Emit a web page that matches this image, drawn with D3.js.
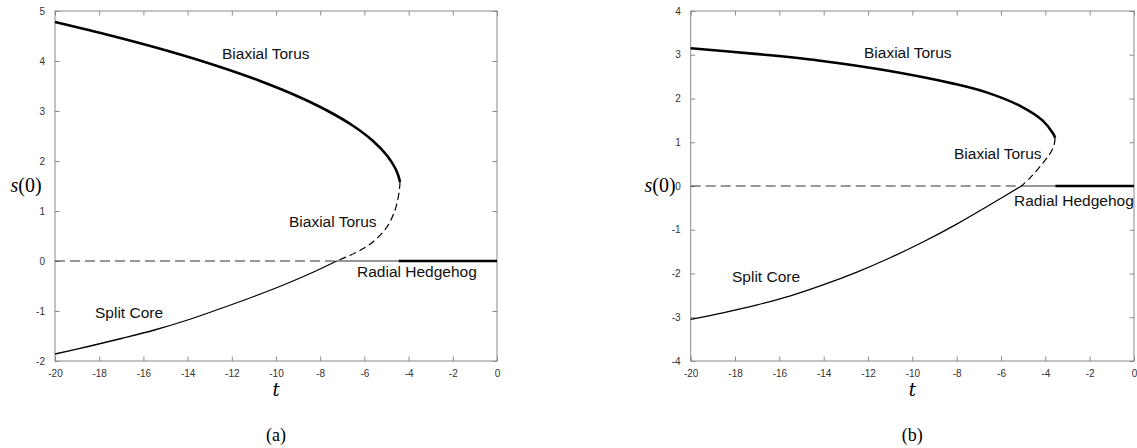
<!DOCTYPE html>
<html><head><meta charset="utf-8">
<script src="https://cdn.jsdelivr.net/npm/d3@7"></script>
<style>
body{margin:0;background:#fff;}
svg text{font-family:"Liberation Sans",Arial,Helvetica,sans-serif;}
</style></head>
<body><svg id="c" width="1137" height="448"></svg>
<script>
// ---- data ----
const xTicks = [-20,-18,-16,-14,-12,-10,-8,-6,-4,-2,0];
const yTicksA = [-2,-1,0,1,2,3,4,5];
const yTicksB = [-4,-3,-2,-1,0,1,2,3,4];

// panel (a): [t, s(0)]
const aTorusStable = [[-20,4.78],[-17.4,4.5],[-14.88,4.2],[-12.66,3.9],[-10.72,3.6],[-9.05,3.3],[-7.65,3.0],[-6.5,2.7],[-5.61,2.4],[-4.96,2.1],[-4.6,1.85],[-4.46,1.7],[-4.39,1.58]];
const aTorusUnstable = [[-4.39,1.58],[-4.41,1.45],[-4.48,1.25],[-4.62,1.01],[-4.98,0.68],[-5.7,0.35],[-6.43,0.16],[-7.25,0]];
const aSplitCore = [[-7.25,0],[-8.3,-0.22],[-9.5,-0.45],[-11,-0.71],[-12.5,-0.95],[-14,-1.18],[-15.5,-1.38],[-17,-1.55],[-18.5,-1.71],[-20,-1.86]];
const aHedgehog = {unstableEnd:-7.25, stableStart:-4.45};

// panel (b)
const bTorusStable = [[-20,3.15],[-17.1,3.02],[-14.25,2.87],[-11.15,2.64],[-8.15,2.34],[-6.65,2.14],[-5.06,1.81],[-4.13,1.5],[-3.65,1.2],[-3.56,1.1]];
const bTorusUnstable = [[-3.56,1.1],[-3.6,0.95],[-3.72,0.8],[-3.92,0.65],[-4.15,0.5],[-4.48,0.3],[-4.72,0.17],[-5.08,0]];
const bSplitCore = [[-5.08,0],[-6.5,-0.43],[-8,-0.87],[-9.5,-1.275],[-11,-1.64],[-12.5,-1.967],[-14,-2.255],[-15.5,-2.51],[-17,-2.718],[-18.5,-2.894],[-20,-3.05]];
const bHedgehog = {unstableEnd:-5.08, stableStart:-3.55};

const panels = [
 {x0:55, x1:497, y0:11, y1:361, yDom:[-2,5], yTicks:yTicksA, stable:aTorusStable, unstable:aTorusUnstable, core:aSplitCore, hh:aHedgehog,
  tag:"(a)", ylabX:26,
  labels:[{t:"Biaxial Torus",x:222,y:59},{t:"Biaxial Torus",x:289,y:227},{t:"Radial Hedgehog",x:357,y:277},{t:"Split Core",x:95,y:318}]},
 {x0:690.7, x1:1134, y0:11, y1:361, yDom:[-4,4], yTicks:yTicksB, stable:bTorusStable, unstable:bTorusUnstable, core:bSplitCore, hh:bHedgehog,
  tag:"(b)", ylabX:660,
  labels:[{t:"Biaxial Torus",x:864,y:58},{t:"Biaxial Torus",x:954,y:159},{t:"Radial Hedgehog",x:1014,y:206},{t:"Split Core",x:732,y:282}]}
];

const svg = d3.select("#c");
const axisCol = "#8a8a8a", tickTxt = "#333";
const fmt = d => String(d);

panels.forEach(p=>{
  const x = d3.scaleLinear().domain([-20,0]).range([p.x0,p.x1]);
  const y = d3.scaleLinear().domain(p.yDom).range([p.y1,p.y0]);
  const g = svg.append("g");
  g.append("rect").attr("x",p.x0).attr("y",p.y0).attr("width",p.x1-p.x0).attr("height",p.y1-p.y0)
   .attr("fill","none").attr("stroke",axisCol).attr("stroke-width",1);
  const style = a=>{a.select(".domain").remove(); a.selectAll(".tick line").attr("stroke",axisCol);
     a.selectAll("text").attr("fill",tickTxt).style("font-size","10px");};
  g.append("g").attr("transform",`translate(0,${p.y1})`).call(d3.axisBottom(x).tickValues(xTicks).tickSizeInner(-4.5).tickSizeOuter(0).tickPadding(9).tickFormat(fmt)).call(style);
  g.append("g").attr("transform",`translate(0,${p.y0})`).call(d3.axisTop(x).tickValues(xTicks).tickSizeInner(-4.5).tickSizeOuter(0).tickFormat("")).call(style);
  g.append("g").attr("transform",`translate(${p.x0},0)`).call(d3.axisLeft(y).tickValues(p.yTicks).tickSizeInner(-4.5).tickSizeOuter(0).tickPadding(10).tickFormat(fmt)).call(style);
  g.append("g").attr("transform",`translate(${p.x1},0)`).call(d3.axisRight(y).tickValues(p.yTicks).tickSizeInner(-4.5).tickSizeOuter(0).tickFormat("")).call(style);

  const line = d3.line().x(d=>x(d[0])).y(d=>y(d[1])).curve(d3.curveCatmullRom.alpha(0.5));
  g.append("path").attr("d",line([[-20,0],[p.hh.unstableEnd,0]])).attr("fill","none").attr("stroke","#333").attr("stroke-width",1.2).attr("stroke-dasharray","10,5");
  g.append("path").attr("d",line([[p.hh.unstableEnd,0],[p.hh.stableStart,0]])).attr("fill","none").attr("stroke","#333").attr("stroke-width",1.2);
  g.append("path").attr("d",line([[p.hh.stableStart,0],[0,0]])).attr("fill","none").attr("stroke","#000").attr("stroke-width",2.6);
  g.append("path").attr("d",line(p.stable)).attr("fill","none").attr("stroke","#000").attr("stroke-width",2.6);
  g.append("path").attr("d",line(p.unstable)).attr("fill","none").attr("stroke","#000").attr("stroke-width",1.2).attr("stroke-dasharray","7,4");
  g.append("path").attr("d",line(p.core)).attr("fill","none").attr("stroke","#000").attr("stroke-width",1.3);

  p.labels.forEach(l=>{
    g.append("text").attr("x",l.x).attr("y",l.y).text(l.t).style("font-size","15.5px").attr("fill","#111");
  });
  const mid = (p.x0+p.x1)/2;
  g.append("text").attr("x",mid).attr("y",396).attr("text-anchor","middle")
   .style("font-family","'DejaVu Serif','Liberation Serif',serif").style("font-style","italic").style("font-size","18px").text("t");
  const yl = g.append("text").attr("x",p.ylabX).attr("y",192).attr("text-anchor","middle")
   .style("font-family","'Liberation Serif','DejaVu Serif',serif").style("font-size","20px");
  yl.append("tspan").style("font-style","italic").text("s");
  yl.append("tspan").text("(0)");
  g.append("text").attr("x",mid).attr("y",441).attr("text-anchor","middle")
   .style("font-family","'Liberation Serif','DejaVu Serif',serif").style("font-size","18px").text(p.tag);
});
</script></body></html>
